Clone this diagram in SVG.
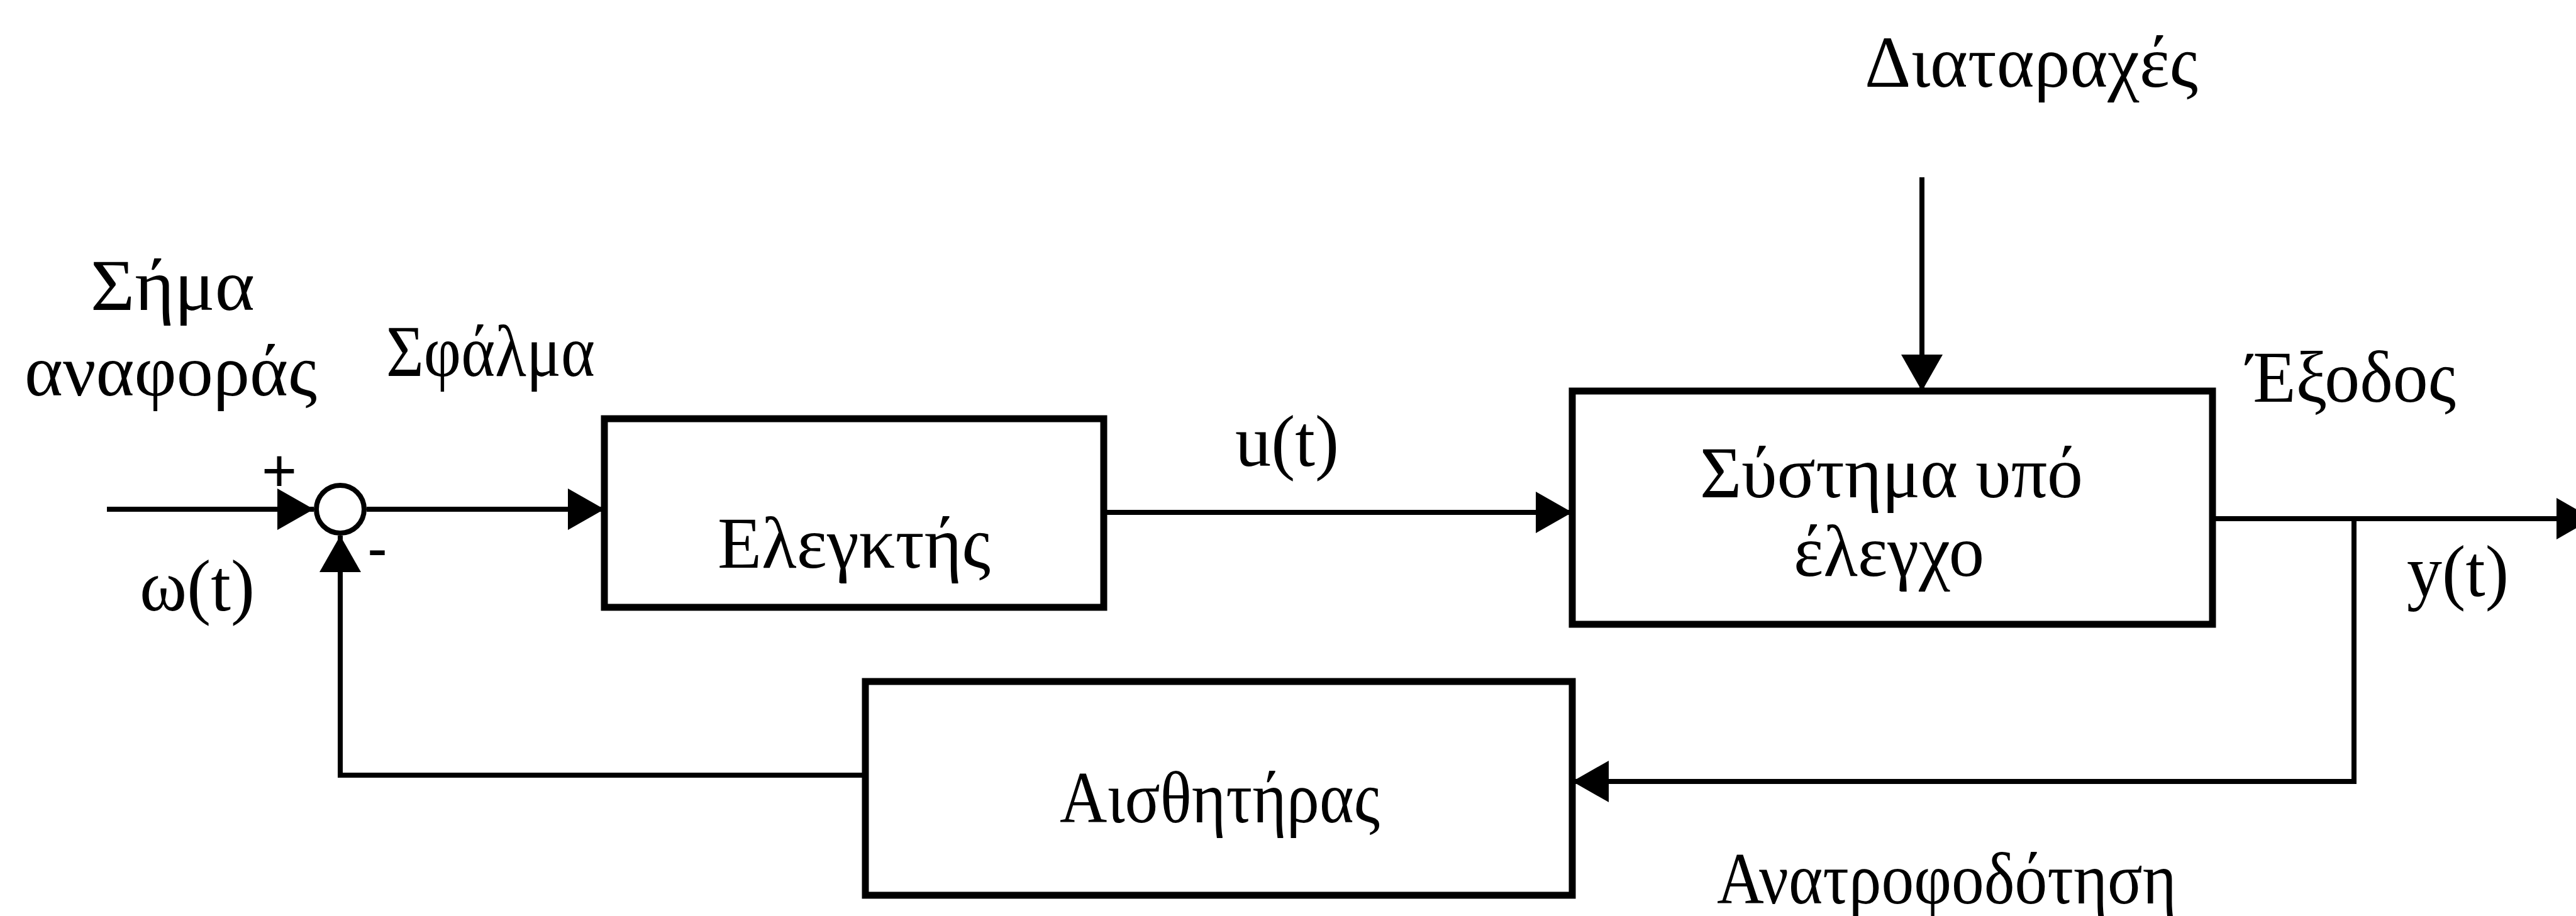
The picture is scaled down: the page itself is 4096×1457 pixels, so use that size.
<svg xmlns="http://www.w3.org/2000/svg" width="4096" height="1457" viewBox="0 0 4096 1457">
  <style>
    .box { fill: #ffffff; stroke: #000000; stroke-width: 11; }
    .sum { fill: #ffffff; stroke: #000000; stroke-width: 8; }
    .wire { fill: none; stroke: #000000; stroke-width: 8; stroke-linejoin: miter; }
    .arrow { marker-end: url(#head); }
    .lbl { font-family: "Liberation Serif", "Times New Roman", "DejaVu Serif", serif; font-size: 116px; fill: #000000; }
    .sign { font-family: "Liberation Sans", Arial, sans-serif; font-size: 96px; fill: #000000; text-anchor: middle; }
  </style>
  <defs>
    <marker id="head" markerUnits="userSpaceOnUse" markerWidth="58" markerHeight="66" viewBox="0 0 58 66" refX="58" refY="33" orient="auto">
      <path d="M0,0 L58,33 L0,66 Z" fill="#000000"/>
    </marker>
  </defs>
  <rect width="4096" height="1457" fill="#ffffff"/>

  <!-- signal paths -->
  <g id="connectors">
    <!-- reference input into summing junction -->
    <line class="wire arrow" x1="170" y1="810" x2="499" y2="810"/>
    <!-- error signal to controller -->
    <line class="wire arrow" x1="583" y1="810" x2="961" y2="810"/>
    <!-- control signal u(t) to plant -->
    <line class="wire arrow" x1="1755" y1="815" x2="2500" y2="815"/>
    <!-- disturbance into plant -->
    <line class="wire arrow" x1="3056" y1="282" x2="3056" y2="622"/>
    <!-- plant output -->
    <line class="wire arrow" x1="3518" y1="825" x2="4123" y2="825"/>
    <!-- feedback branch to sensor -->
    <polyline class="wire arrow" points="3743,825 3743,1243 2500,1243"/>
    <!-- sensor back to summing junction -->
    <polyline class="wire arrow" points="1376,1233 541,1233 541,852"/>
  </g>

  <g id="sum-junction">
    <circle class="sum" cx="541" cy="810" r="38"/>
    <text class="sign" x="444" y="782">+</text>
    <text class="sign" x="600" y="905">-</text>
  </g>

  <g id="controller">
    <rect class="box" x="961" y="666" width="794" height="300"/>
    <text class="lbl" x="1141" y="903" textLength="434" lengthAdjust="spacingAndGlyphs">Ελεγκτής</text>
  </g>

  <g id="plant">
    <rect class="box" x="2500" y="622" width="1018" height="371"/>
    <text class="lbl" x="2703" y="791" textLength="609" lengthAdjust="spacingAndGlyphs">Σύστημα υπό</text>
    <text class="lbl" x="2852" y="916" textLength="303" lengthAdjust="spacingAndGlyphs">έλεγχο</text>
  </g>

  <g id="sensor">
    <rect class="box" x="1376" y="1084" width="1124" height="340"/>
    <text class="lbl" x="1685" y="1308" textLength="509" lengthAdjust="spacingAndGlyphs">Αισθητήρας</text>
  </g>

  <!-- signal names -->
  <g id="labels">
    <text class="lbl" x="144" y="493" textLength="261" lengthAdjust="spacingAndGlyphs">Σήμα</text>
    <text class="lbl" x="39" y="629" textLength="465" lengthAdjust="spacingAndGlyphs">αναφοράς</text>
    <text class="lbl" x="614" y="598" textLength="332" lengthAdjust="spacingAndGlyphs">Σφάλμα</text>
    <text class="lbl" x="222" y="971" textLength="183" lengthAdjust="spacingAndGlyphs">ω(t)</text>
    <text class="lbl" x="1964" y="741" textLength="165" lengthAdjust="spacingAndGlyphs">u(t)</text>
    <text class="lbl" x="2965" y="138" textLength="530" lengthAdjust="spacingAndGlyphs">Διαταραχές</text>
    <text class="lbl" x="3573" y="639" textLength="332" lengthAdjust="spacingAndGlyphs">Έξοδος</text>
    <text class="lbl" x="3827" y="948" textLength="162" lengthAdjust="spacingAndGlyphs">y(t)</text>
    <text class="lbl" x="2730" y="1437" textLength="731" lengthAdjust="spacingAndGlyphs">Ανατροφοδότηση</text>
  </g>
</svg>
